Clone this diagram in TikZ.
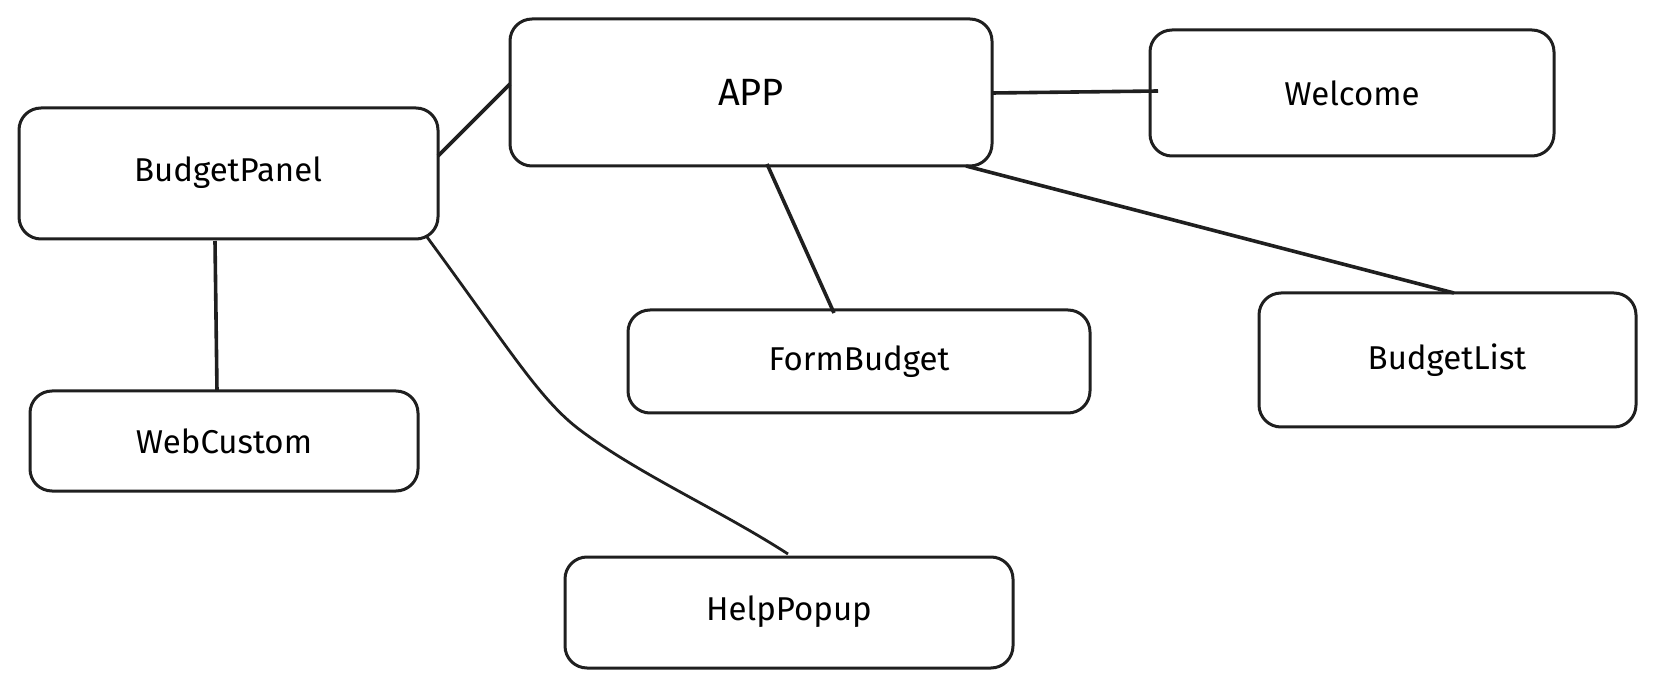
\documentclass[tikz,border=0pt]{standalone}
\usepackage{fontspec}
\setmainfont{Fira Sans}
\begin{document}
\begin{tikzpicture}[x=1pt,y=-1pt,
  box/.style={draw=black!88,line width=3pt,rounded corners=22pt},
  lbl/.style={font=\fontsize{33}{40}\selectfont},
  link/.style={draw=black!88,line width=3.6pt}]
\useasboundingbox (0,0) rectangle (1655,684);
\draw[box] (510,19) rectangle (992,166);
\node[lbl,font=\fontsize{38}{46}\selectfont] (app) at (751,92) {APP};
\draw[box] (1150,30) rectangle (1554,156);
\node[lbl] (wel) at (1352,93) {Welcome};
\draw[box] (19,108) rectangle (438,239);
\node[lbl] (bp) at (228,173) {BudgetPanel};
\draw[box] (628,310) rectangle (1090,413);
\node[lbl] (fb) at (859,362) {FormBudget};
\draw[box] (1259,293) rectangle (1636,427);
\node[lbl] (bl) at (1447,360) {BudgetList};
\draw[box] (30,391) rectangle (418,491);
\node[lbl] (wc) at (224,441) {WebCustom};
\draw[box] (565,557) rectangle (1013,668);
\node[lbl] (hp) at (789,612) {HelpPopup};
\coordinate (appL) at (510,84);
\coordinate (appR) at (992,93);
\coordinate (appB1) at (767,164);
\coordinate (appB2) at (966,166);
\coordinate (welL) at (1158,91);
\coordinate (bpR) at (438,156);
\coordinate (bpB) at (215,241);
\coordinate (bpBR) at (427,237);
\coordinate (fbT) at (834,313);
\coordinate (blT) at (1454,293);
\coordinate (wcT) at (217,391);
\coordinate (hpT) at (788,554);
\draw[link] (bpR) -- (appL);
\draw[link] (appR) -- (welL);
\draw[link] (appB1) -- (fbT);
\draw[link] (appB2) -- (blT);
\draw[link] (bpB) -- (wcT);
\draw[link,line width=2.8pt] (bpBR) .. controls (510,350) and (540,400) .. (580,430) .. controls (640,475) and (720,510) .. (hpT);
\end{tikzpicture}
\end{document}
